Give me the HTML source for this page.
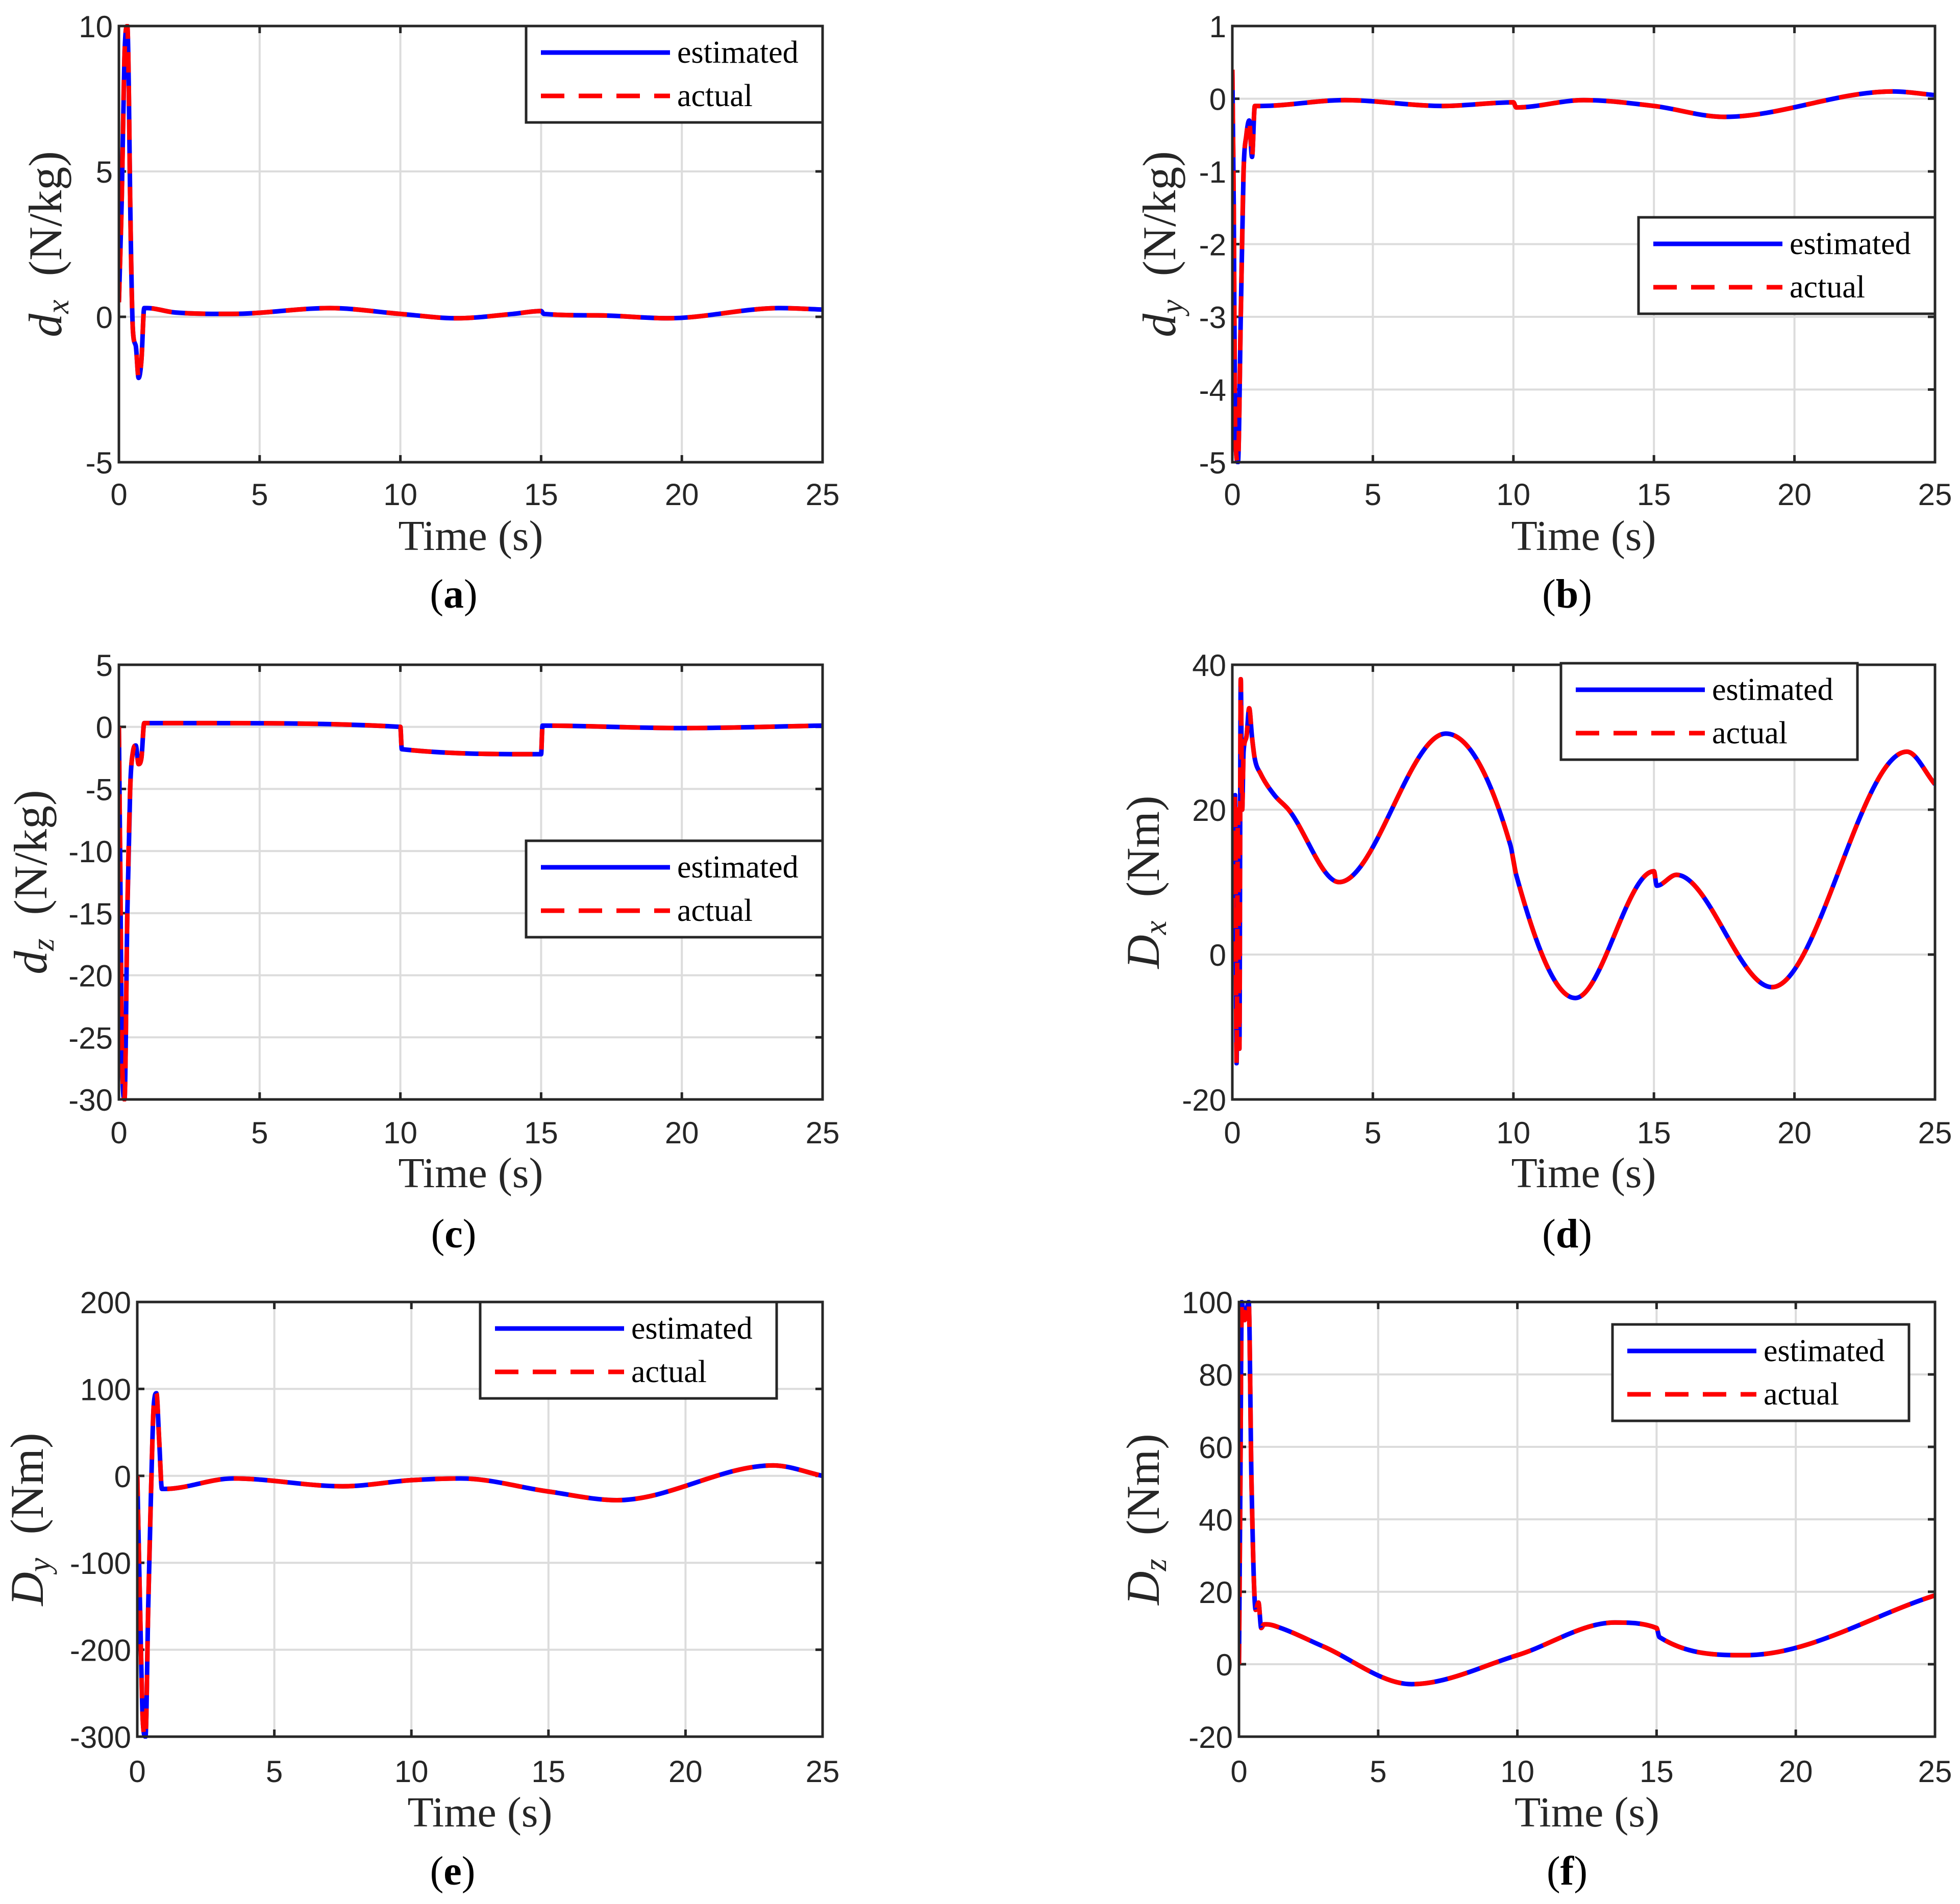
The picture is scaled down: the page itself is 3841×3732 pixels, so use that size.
<!DOCTYPE html>
<html><head><meta charset="utf-8">
<style>html,body{margin:0;padding:0;background:#fff;}svg{display:block;}</style>
</head><body>
<svg id="fig" width="3841" height="3732" viewBox="0 0 3841 3732" xmlns="http://www.w3.org/2000/svg"></svg>
<script>
// ---- data ----
const tA=[0,0.1,0.2,0.3,0.35,0.4,0.5,0.6,0.7,0.8,0.9,1,2,4,7.5,10,12,14,15,15.1,17,19.5,23.5,25];
const vA=[0.5,4,9,10,8,4,-0.5,-1,-2.1,-1.5,0.3,0.3,0.15,0.1,0.3,0.1,-0.05,0.1,0.2,0.1,0.05,-0.05,0.3,0.25];
const tB=[0,0.05,0.1,0.2,0.3,0.4,0.5,0.6,0.7,0.8,1,4,7.5,10,10.1,12.5,15,17.5,23.5,25];
const vB=[0.4,-1.5,-4.5,-5,-3,-1,-0.5,-0.3,-0.8,-0.1,-0.1,-0.02,-0.1,-0.05,-0.12,-0.02,-0.1,-0.25,0.1,0.05];
const tC=[0,0.05,0.1,0.2,0.3,0.4,0.5,0.6,0.7,0.8,0.9,3,10,10.05,15,15.05,20,25];
const vC=[0,-12,-25,-30,-15,-5,-2,-1.5,-3,-2.5,0.3,0.3,0,-1.8,-2.2,0.1,-0.1,0.1];
const tD=[0,0.1,0.15,0.2,0.25,0.3,0.35,0.4,0.5,0.6,0.7,0.8,1,1.5,2,3.8,7.6,9.9,10,10.1,12.2,15,15.1,15.8,19.2,24,25];
const vD=[5,22,-15,20,-13,38,20,28,30,34,30,27,25,22,20,10,30.5,15,13,11,-6,11.5,9.5,11,-4.5,28,23.5];
const tE=[0,0.1,0.2,0.3,0.4,0.5,0.6,0.7,0.8,0.9,1,3.5,7.5,10,11.8,15,17.5,23.2,25];
const vE=[0,-150,-280,-300,-150,-20,80,95,40,-15,-15,-3,-12,-5,-3,-18,-28,12,0];
const tF=[0,0.05,0.1,0.2,0.35,0.45,0.6,0.7,0.8,0.9,1,1.5,3,6.2,10,13.5,15,15.1,18.2,25];
const vF=[0,50,100,95,100,50,15,17,10,11,11,10,5,-5.5,2.5,11.5,10,7.5,2.5,19];
const xTicks=[0,5,10,15,20,25];
const yTicksA=[-5,0,5,10];
const yTicksB=[-5,-4,-3,-2,-1,0,1];
const yTicksC=[-30,-25,-20,-15,-10,-5,0,5];
const yTicksD=[-20,0,20,40];
const yTicksE=[-300,-200,-100,0,100,200];
const yTicksF=[-20,0,20,40,60,80,100];

const NS="http://www.w3.org/2000/svg";
const svg=document.getElementById('fig');
function mk(tag,attrs,parent){const e=document.createElementNS(NS,tag);for(const k in attrs)e.setAttribute(k,attrs[k]);(parent||svg).appendChild(e);return e;}

// monotone cubic path through pixel points
function smoothPath(xs,ys){
 const n=xs.length,d=[],m=new Array(n);
 for(let i=0;i<n-1;i++)d.push((ys[i+1]-ys[i])/(xs[i+1]-xs[i]));
 m[0]=d[0];m[n-1]=d[n-2];
 for(let i=1;i<n-1;i++){m[i]=(d[i-1]*d[i]<=0)?0:(d[i-1]+d[i])/2;}
 for(let i=0;i<n-1;i++){
  if(d[i]===0){m[i]=0;m[i+1]=0;continue;}
  const a=m[i]/d[i],b=m[i+1]/d[i],s=a*a+b*b;
  if(s>9){const t=3/Math.sqrt(s);m[i]=t*a*d[i];m[i+1]=t*b*d[i];}
 }
 let p='M'+xs[0].toFixed(1)+','+ys[0].toFixed(1);
 for(let i=0;i<n-1;i++){
  const h=(xs[i+1]-xs[i])/3;
  p+=' C'+(xs[i]+h).toFixed(1)+','+(ys[i]+m[i]*h).toFixed(1)+' '+(xs[i+1]-h).toFixed(1)+','+(ys[i+1]-m[i+1]*h).toFixed(1)+' '+xs[i+1].toFixed(1)+','+ys[i+1].toFixed(1);
 }
 return p;
}

const panels=[
 {id:'a',L:233,R:1612,T:51,B:906,t:tA,v:vA,yt:yTicksA,sym:'d',sub:'x',unit:'(N/kg)',ylx:90,leg:[1031,51],cap:[889,1163],tl:990,tt:1078},
 {id:'b',L:2415,R:3792,T:51,B:906,t:tB,v:vB,yt:yTicksB,sym:'d',sub:'y',unit:'(N/kg)',ylx:2273,leg:[3211,426],cap:[3071,1163],tl:990,tt:1078},
 {id:'c',L:233,R:1612,T:1303,B:2155,t:tC,v:vC,yt:yTicksC,sym:'d',sub:'z',unit:'(N/kg)',ylx:61,leg:[1031,1648],cap:[889,2417],tl:2241,tt:2327},
 {id:'d',L:2415,R:3792,T:1303,B:2155,t:tD,v:vD,yt:yTicksD,sym:'D',sub:'x',unit:'(Nm)',ylx:2241,leg:[3059,1300],cap:[3071,2417],tl:2241,tt:2327},
 {id:'e',L:269,R:1612,T:2552,B:3404,t:tE,v:vE,yt:yTicksE,sym:'D',sub:'y',unit:'(Nm)',ylx:54,leg:[941,2552],cap:[887,3666],tl:3493,tt:3580},
 {id:'f',L:2428,R:3792,T:2552,B:3404,t:tF,v:vF,yt:yTicksF,sym:'D',sub:'z',unit:'(Nm)',ylx:2241,leg:[3160,2596],cap:[3071,3666],tl:3493,tt:3580}
];

panels.forEach(p=>{
 const g=mk('g',{});
 
 
 const y0=p.yt[0],y1=p.yt[p.yt.length-1];
 const X=t=>p.L+(t-0)/(25-0)*(p.R-p.L);
 const Y=v=>p.B-(v-y0)/(y1-y0)*(p.B-p.T);
 xTicks.forEach(t=>{
  const l=mk('line',{x1:X(t),x2:X(t),y1:p.T,y2:p.B,stroke:'#dcdcdc','stroke-width':4},g);
  
  
  const tk=mk('text',{x:X(t),y:p.tl,'font-family':'Liberation Sans, sans-serif','font-size':60,'text-anchor':'middle',fill:'#262626'},g);
  tk.textContent=t;
  
  
  mk('line',{x1:X(t),x2:X(t),y1:p.B,y2:p.B-14,stroke:'#262626','stroke-width':5},g);
  mk('line',{x1:X(t),x2:X(t),y1:p.T,y2:p.T+14,stroke:'#262626','stroke-width':5},g);
 });
 p.yt.forEach(v=>{
  const l=mk('line',{x1:p.L,x2:p.R,y1:Y(v),y2:Y(v),stroke:'#dcdcdc','stroke-width':4},g);
  
  
  const tk=mk('text',{x:p.L-12,y:Y(v)+22,'font-family':'Liberation Sans, sans-serif','font-size':60,'text-anchor':'end',fill:'#262626'},g);
  tk.textContent=v;
  
  
  mk('line',{x1:p.L,x2:p.L+14,y1:Y(v),y2:Y(v),stroke:'#262626','stroke-width':5},g);
  mk('line',{x1:p.R,x2:p.R-14,y1:Y(v),y2:Y(v),stroke:'#262626','stroke-width':5},g);
 });
 const d=smoothPath(p.t.map(X),p.v.map(Y));
 const cp=mk('clipPath',{id:'cp'+p.id},g);
 mk('rect',{x:p.L,y:p.T-4,width:p.R-p.L,height:p.B-p.T+8},cp);
 const est=mk('path',{d:d,fill:'none',stroke:'#0000ff','stroke-width':9,'stroke-linejoin':'round','clip-path':'url(#cp'+p.id+')'},g);
 
 
 const act=mk('path',{d:d,fill:'none',stroke:'#ff0000','stroke-width':9,'stroke-dasharray':'40 26','clip-path':'url(#cp'+p.id+')'},g);
 
 
 const box=mk('rect',{x:p.L,y:p.T,width:p.R-p.L,height:p.B-p.T,fill:'none',stroke:'#262626','stroke-width':5},g);
 
 
 const lx=p.leg[0],ly=p.leg[1];
 const lg=mk('g',{},g);
 
 
 mk('rect',{x:lx,y:ly,width:581,height:189,fill:'#fff',stroke:'#262626','stroke-width':5},lg);
 mk('line',{x1:lx+29,x2:lx+282,y1:ly+52,y2:ly+52,stroke:'#0000ff','stroke-width':9},lg);
 mk('line',{x1:lx+29,x2:lx+282,y1:ly+137,y2:ly+137,stroke:'#ff0000','stroke-width':9,'stroke-dasharray':'46 28'},lg);
 const e1=mk('text',{x:lx+296,y:ly+72,'font-family':'Liberation Serif, serif','font-size':62,fill:'#000'},lg);
 e1.textContent='estimated';
 
 
 const e2=mk('text',{x:lx+296,y:ly+157,'font-family':'Liberation Serif, serif','font-size':62,fill:'#000'},lg);
 e2.textContent='actual';
 
 
 const xt=mk('text',{x:(p.L+p.R)/2,y:p.tt,'font-family':'Liberation Serif, serif','font-size':84,'text-anchor':'middle',fill:'#262626'},g);
 xt.textContent='Time (s)';
 
 
 const cy=(p.T+p.B)/2;
 const yl=mk('text',{transform:'translate('+(p.ylx+30)+','+cy+') rotate(-90)','font-family':'Liberation Serif, serif','font-size':92,'text-anchor':'middle',fill:'#262626'},g);
 
 
 const s1=mk('tspan',{'font-style':'italic'},yl); s1.textContent=p.sym;
 const s2=mk('tspan',{'font-style':'italic','font-size':62,dy:14},yl); s2.textContent=p.sub;
 const s3=mk('tspan',{dy:-14},yl); s3.textContent='\u00a0\u00a0'+p.unit;
 const c=mk('text',{x:p.cap[0],y:p.cap[1]+28,'font-family':'Liberation Serif, serif','font-size':80,'text-anchor':'middle',fill:'#000'},g);
 
 
 const c1=mk('tspan',{},c); c1.textContent='(';
 const c2=mk('tspan',{'font-weight':'bold'},c); c2.textContent=p.id;
 const c3=mk('tspan',{},c); c3.textContent=')';
});
</script>
</body></html>
